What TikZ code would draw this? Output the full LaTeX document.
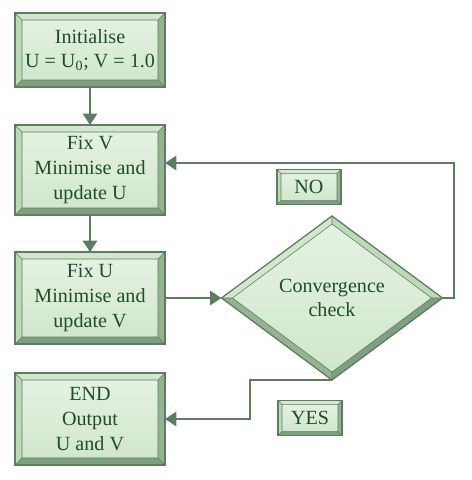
\documentclass[tikz,border=0pt]{standalone}
\usepackage{fontspec}
\setmainfont{Liberation Serif}
\usetikzlibrary{calc,shapes.geometric,arrows.meta}

\definecolor{boxline}{HTML}{5D7D60}
\definecolor{boxtext}{HTML}{1E4D2B}
\definecolor{bevtopc}{HTML}{D2E8CE}
\definecolor{bevleftc}{HTML}{BCD9B8}
\definecolor{bevrightc}{HTML}{94B392}
\definecolor{bevbotc}{HTML}{7F9F81}

\tikzset{
  bevtop/.style={fill=bevtopc},
  bevleft/.style={fill=bevleftc},
  bevright/.style={fill=bevrightc},
  bevbottom/.style={fill=bevbotc},
  bevline/.style={draw=boxline, line width=0.4pt},
  boxedge/.style={draw=boxline, line width=0.9pt},
  flow/.style={draw=boxline, line width=1.8pt, -{Triangle[length=8pt,width=10pt]}},
  stepbox/.style={rectangle, top color=white!45!bevtopc, bottom color=bevtopc!85!bevleftc,
    minimum width=3.75cm, inner sep=0pt, outer sep=0pt, align=center, text=boxtext,
    font=\fontsize{14.3}{17.5}\selectfont},
  answer/.style={stepbox, minimum width=1.6cm, minimum height=0.88cm}
}

% bevel frame round a rectangle node: #1 node, #2 inset
\newcommand{\bevelrect}[2]{%
  \path (#1.north west) coordinate (o1) (#1.north east) coordinate (o2)
        (#1.south east) coordinate (o3) (#1.south west) coordinate (o4);
  \path ($(o1)+(#2,#2)$) coordinate (i1) ($(o2)+(-#2,#2)$) coordinate (i2)
        ($(o3)+(-#2,-#2)$) coordinate (i3) ($(o4)+(#2,-#2)$) coordinate (i4);
  \path[bevtop] (o1)--(o2)--(i2)--(i1)--cycle;
  \path[bevright] (o2)--(o3)--(i3)--(i2)--cycle;
  \path[bevbottom] (o3)--(o4)--(i4)--(i3)--cycle;
  \path[bevleft] (o4)--(o1)--(i1)--(i4)--cycle;
  \draw[bevline] (o1)--(i1) (o2)--(i2) (o3)--(i3) (o4)--(i4) (i1)--(i2)--(i3)--(i4)--cycle;
  \draw[boxedge] (o1)--(o2)--(o3)--(o4)--cycle;
}

\begin{document}
\begin{tikzpicture}[x=0.025cm, y=-0.025cm]
\useasboundingbox (0,0) rectangle (472,480);

% steps
\node[stepbox, minimum height=1.85cm] (init) at (90,50) {Initialise\\U = U\textsubscript{0}; V = 1.0};
\node[stepbox, minimum height=2.25cm] (fixv) at (90,170) {Fix V\\Minimise and\\update U};
\node[stepbox, minimum height=2.3cm] (fixu) at (90,298) {Fix U\\Minimise and\\update V};
\node[stepbox, minimum height=2.3cm] (endbox) at (90,419) {END\\Output\\U and V};
\foreach \n in {init,fixv,fixu,endbox} {\bevelrect{\n}{7}}

% check
\node[diamond, top color=white!45!bevtopc, bottom color=bevtopc!85!bevleftc, inner sep=0pt, outer sep=0pt,
  minimum width=5.525cm, minimum height=4.1cm, align=center, text=boxtext,
  font=\fontsize{14.3}{17.5}\selectfont] (conv) at (332,298) {Convergence\\check};
\path ($(conv.north)+(0,8)$) coordinate (dn) ($(conv.east)+(-11,0)$) coordinate (de)
      ($(conv.south)+(0,-8)$) coordinate (ds) ($(conv.west)+(11,0)$) coordinate (dw);
\path[bevtop] (conv.west)--(conv.north)--(dn)--(dw)--cycle;
\path[bevleft] (conv.north)--(conv.east)--(de)--(dn)--cycle;
\path[bevbottom] (conv.east)--(conv.south)--(ds)--(de)--cycle;
\path[bevright] (conv.south)--(conv.west)--(dw)--(ds)--cycle;
\draw[bevline] (conv.north)--(dn) (conv.east)--(de) (conv.south)--(ds) (conv.west)--(dw)
  (dn)--(de)--(ds)--(dw)--cycle;
\draw[boxedge] (conv.north)--(conv.east)--(conv.south)--(conv.west)--cycle;

% labels
\node[answer] (no) at (309,187) {NO};
\node[answer] (yes) at (310,418) {YES};
\bevelrect{no}{4}
\bevelrect{yes}{4}

% connectors
\coordinate (loop) at (454,163);
\coordinate (yesturn) at (250,380);
\draw[flow] (init) -- (fixv);
\draw[flow] (fixv) -- (fixu);
\draw[flow] (fixu) -- (conv);
\draw[flow] (conv.east) -| (loop) -- (loop -| fixv.east);
\draw[flow] (conv.south) -- (conv.south -| yesturn) |- (endbox.east);
\end{tikzpicture}
\end{document}
